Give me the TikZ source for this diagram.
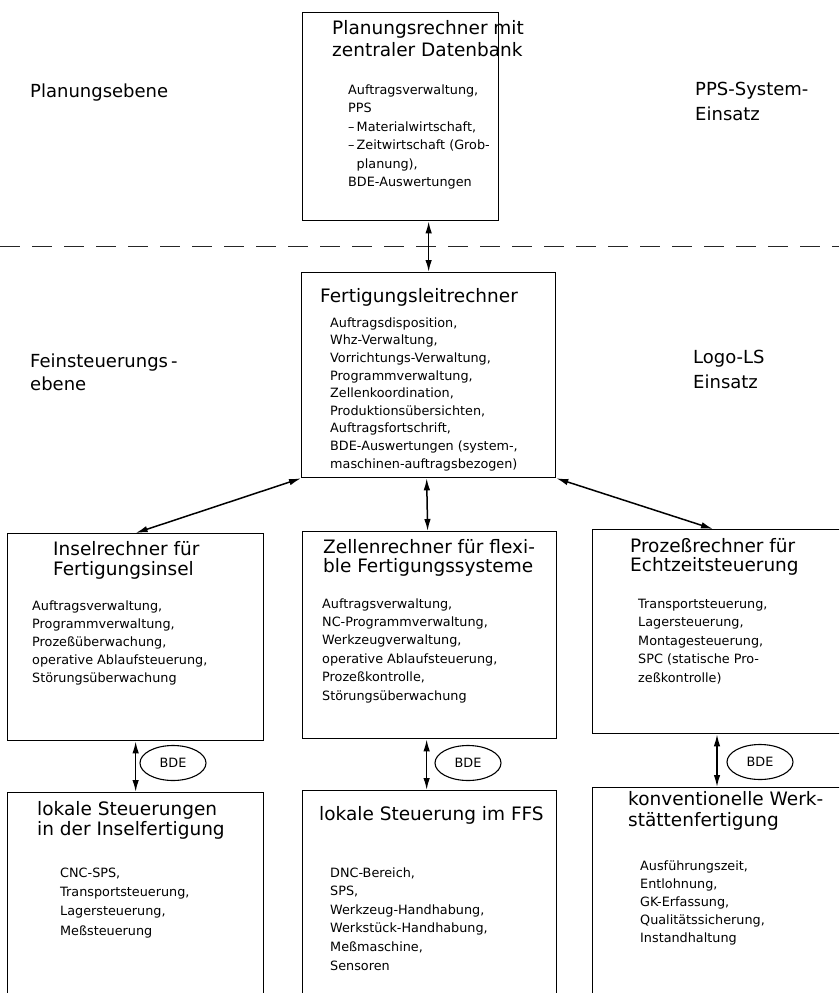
\documentclass[tikz,border=0pt]{standalone}
\usepackage{fontspec}
\setmainfont{DejaVu Sans}
\usetikzlibrary{arrows.meta,shapes.geometric}
\begin{document}
\begin{tikzpicture}[x=1pt,y=-1pt,
  box/.style={draw,line width=1.3pt,anchor=north west,inner sep=0pt},
  ttl/.style={font=\fontsize{18.5}{20}\selectfont,align=left,anchor=base west,inner sep=0pt},
  bdy/.style={font=\fontsize{12.8}{18}\selectfont,align=left,anchor=base west,inner sep=0pt},
  lbl/.style={font=\fontsize{18}{24}\selectfont,align=left,anchor=base west,inner sep=0pt},
  dbl/.style={{Latex[length=12pt,width=6.5pt]}-{Latex[length=12pt,width=6.5pt]},line width=1.5pt},
  bde/.style={ellipse,draw,line width=1.1pt,minimum width=66pt,minimum height=35pt,inner sep=0pt,font=\fontsize{12.8}{15}\selectfont}]
\useasboundingbox (0,0) rectangle (839,993);
\clip (0,0) rectangle (839,993);
\fill[white] (0,0) rectangle (839,993);

% boxes
\node[box,minimum width=196pt,minimum height=208pt] (top) at (302,12) {};
\node[box,minimum width=254pt,minimum height=205pt] (fl) at (301,272) {};
\node[box,minimum width=256pt,minimum height=207pt] (ir) at (7,533) {};
\node[box,minimum width=254pt,minimum height=207pt] (zr) at (302,531) {};
\node[box,minimum width=260pt,minimum height=204pt] (pr) at (592,529) {};
\node[box,minimum width=256pt,minimum height=230pt] (lok1) at (7,792) {};
\node[box,minimum width=254pt,minimum height=230pt] (lok2) at (302,790) {};
\node[box,minimum width=260pt,minimum height=230pt] (kw) at (592,787) {};

% separator
\coordinate (sepL) at (0,246);
\coordinate (sepR) at (839,246);
\draw[line width=1pt,dash pattern=on 20pt off 12pt,black!85] (sepL) -- (sepR);

% side labels (anchored at the baseline of the last line)
\node[lbl] (l1) at (30,97) {Planungsebene};
\node[lbl,font=\fontsize{18}{25}\selectfont] (l2) at (695,120) {PPS-System-\\Einsatz};
\node[lbl,font=\fontsize{18}{23}\selectfont] (l3) at (30,390) {Feinsteuerungs\,-\\ebene};
\node[lbl,font=\fontsize{18}{25}\selectfont] (l4) at (693,388) {Logo-LS\\Einsatz};

% texts (anchored at the baseline of the last line)
\node[ttl,font=\fontsize{18.5}{21}\selectfont] (t1) at (332,56) {Planungsrechner mit\\zentraler Datenbank};
\node[bdy,font=\fontsize{12.8}{18.5}\selectfont] (b1) at (348,186.5) {Auftragsverwaltung,\\PPS\\–\,Materialwirtschaft,\\–\,Zeitwirtschaft (Grob-\\\phantom{–\,}planung),\\BDE-Auswertungen};

\node[ttl] (t2) at (320,302) {Fertigungsleitrechner};
\node[bdy,font=\fontsize{12.8}{17.6}\selectfont] (b2) at (330,468) {Auftragsdisposition,\\Whz-Verwaltung,\\Vorrichtungs-Verwaltung,\\Programmverwaltung,\\Zellenkoordination,\\Produktionsübersichten,\\Auftragsfortschrift,\\BDE-Auswertungen (system-,\\maschinen-auftragsbezogen)};

\node[ttl] (t3) at (53,575) {Inselrechner für\\Fertigungsinsel};
\node[bdy] (b3) at (32,682) {Auftragsverwaltung,\\Programmverwaltung,\\Prozeßüberwachung,\\operative Ablaufsteuerung,\\Störungsüberwachung};

\node[ttl,font=\fontsize{18.5}{19.5}\selectfont] (t4) at (323,572.5) {Zellenrechner für flexi-\\ble Fertigungssysteme};
\node[bdy,font=\fontsize{12.8}{18.4}\selectfont] (b4) at (322,700) {Auftragsverwaltung,\\NC-Programmverwaltung,\\Werkzeugverwaltung,\\operative Ablaufsteuerung,\\Prozeßkontrolle,\\Störungsüberwachung};

\node[ttl,font=\fontsize{18.5}{19}\selectfont] (t5) at (630,571) {Prozeßrechner für\\Echtzeitsteuerung};
\node[bdy,font=\fontsize{12.8}{18.5}\selectfont] (b5) at (638,682) {Transportsteuerung,\\Lagersteuerung,\\Montagesteuerung,\\SPC (statische Pro-\\zeßkontrolle)};

\node[ttl] (t6) at (37,835) {lokale Steuerungen\\in der Inselfertigung};
\node[bdy,font=\fontsize{12.8}{19.3}\selectfont] (b6) at (60,935) {CNC-SPS,\\Transportsteuerung,\\Lagersteuerung,\\Meßsteuerung};

\node[ttl] (t7) at (319,820) {lokale Steuerung im FFS};
\node[bdy,font=\fontsize{12.8}{18.6}\selectfont] (b7) at (330,970) {DNC-Bereich,\\SPS,\\Werkzeug-Handhabung,\\Werkstück-Handhabung,\\Meßmaschine,\\Sensoren};

\node[ttl,font=\fontsize{18.5}{21}\selectfont] (t8) at (628,826) {konventionelle Werk-\\stättenfertigung};
\node[bdy] (b8) at (640,942) {Ausführungszeit,\\Entlohnung,\\GK-Erfassung,\\Qualitätssicherung,\\Instandhaltung};

% BDE ellipses
\node[bde] (e1) at (173,763) {BDE};
\node[bde] (e2) at (468,763) {BDE};
\node[bde] (e3) at (760,762) {BDE};

% connectors
\draw[dbl] (top.south -| fl.north) -- (fl.north);
\draw[dbl] (fl.south west) -- (ir.north);
\draw[dbl] ([xshift=-2pt]fl.south) -- ([xshift=-2pt]zr.north);
\draw[dbl] (fl.south east) -- ([xshift=121pt]pr.north west);
\draw[dbl] (ir.south) -- (lok1.north);
\draw[dbl] ([xshift=-3pt]zr.south) -- ([xshift=-3pt]lok2.north);
\draw[dbl] ([xshift=125pt]pr.south west) -- ([xshift=125pt]kw.north west);
\end{tikzpicture}
\end{document}
